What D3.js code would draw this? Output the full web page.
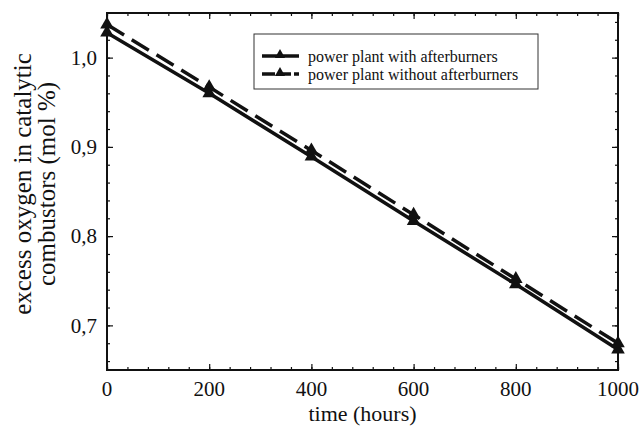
<!DOCTYPE html>
<html>
<head>
<meta charset="utf-8">
<script src="https://cdn.jsdelivr.net/npm/d3@7"></script>
<style>
  body { margin: 0; background: #fff; }
  text { font-family: "Liberation Serif", "DejaVu Serif", serif; fill: #111; }
</style>
</head>
<body>
<div id="chart"></div>
<script>
// data
const hours = [0, 200, 400, 600, 800, 1000];
const withAfterburners = [1.028, 0.960, 0.889, 0.817, 0.746, 0.673];
const withoutAfterburners = [1.037, 0.967, 0.896, 0.824, 0.752, 0.680];
const seriesNames = ['power plant with afterburners', 'power plant without afterburners'];
const xTicks = [0, 200, 400, 600, 800, 1000];
const yTicks = [0.7, 0.8, 0.9, 1.0];

const width = 643, height = 427;
const margin = { top: 13, right: 25, bottom: 57, left: 107 };
const innerW = width - margin.left - margin.right;
const innerH = height - margin.top - margin.bottom;

const svg = d3.select('#chart').append('svg')
    .attr('width', width)
    .attr('height', height);

const g = svg.append('g')
    .attr('transform', `translate(${margin.left},${margin.top})`);

const x = d3.scaleLinear().domain([0, 1000]).range([0, innerW]);
const y = d3.scaleLinear().domain([0.65, 1.05]).range([innerH, 0]);

const comma = d => d3.format('.1f')(d).replace('.', ',');

// minor + major ticks on all four sides, pointing inward
const xMinor = d3.range(0, 1001, 40);
const yMinor = d3.range(0.66, 1.05, 0.02);

function drawTicks(axisGen, transform, vals, len) {
    const a = g.append('g')
        .attr('transform', transform)
        .call(axisGen.tickValues(vals).tickSize(len).tickFormat(''));
    a.select('.domain').remove();
    a.selectAll('line').attr('stroke', '#111').attr('stroke-width', 1.2);
}
drawTicks(d3.axisTop(x), `translate(0,${innerH})`, xMinor, 3);
drawTicks(d3.axisTop(x), `translate(0,${innerH})`, xTicks, 6);
drawTicks(d3.axisBottom(x), 'translate(0,0)', xMinor, 3);
drawTicks(d3.axisBottom(x), 'translate(0,0)', xTicks, 6);
drawTicks(d3.axisRight(y), 'translate(0,0)', yMinor, 3);
drawTicks(d3.axisRight(y), 'translate(0,0)', yTicks, 6);
drawTicks(d3.axisLeft(y), `translate(${innerW},0)`, yMinor, 3);
drawTicks(d3.axisLeft(y), `translate(${innerW},0)`, yTicks, 6);

// frame
g.append('rect')
    .attr('width', innerW)
    .attr('height', innerH)
    .attr('fill', 'none')
    .attr('stroke', '#111')
    .attr('stroke-width', 2);

// tick labels
g.selectAll('.xlab')
    .data(xTicks)
    .enter()
    .append('text')
    .attr('x', d => x(d))
    .attr('y', innerH + 26)
    .attr('text-anchor', 'middle')
    .attr('font-size', '21px')
    .text(d => d);

g.selectAll('.ylab')
    .data(yTicks)
    .enter()
    .append('text')
    .attr('x', -10)
    .attr('y', d => y(d))
    .attr('dy', '0.35em')
    .attr('text-anchor', 'end')
    .attr('font-size', '21px')
    .text(comma);

// axis titles
svg.append('text')
    .attr('x', margin.left + innerW / 2)
    .attr('y', 421)
    .attr('text-anchor', 'middle')
    .attr('font-size', '22px')
    .text('time (hours)');

const yTitle = svg.append('text')
    .attr('transform', `translate(0,184) rotate(-90)`)
    .attr('text-anchor', 'middle')
    .attr('font-size', '25px');
yTitle.append('tspan').attr('x', 0).attr('y', 31).text('excess oxygen in catalytic');
yTitle.append('tspan').attr('x', 0).attr('y', 55).text('combustors (mol %)');

// lines
const line = d3.line()
    .x(d => x(d[0]))
    .y(d => y(d[1]));

const series = [
    { name: seriesNames[0], values: withAfterburners, dash: null },
    { name: seriesNames[1], values: withoutAfterburners, dash: '20,9' }
];

const tri = d3.symbol().type(d3.symbolTriangle).size(80);

series.forEach(s => {
    const pts = hours.map((h, i) => [h, s.values[i]]);
    g.append('path')
        .datum(pts)
        .attr('d', line)
        .attr('fill', 'none')
        .attr('stroke', '#111')
        .attr('stroke-width', 3.5)
        .attr('stroke-dasharray', s.dash);
    g.selectAll(null)
        .data(pts)
        .enter()
        .append('path')
        .attr('d', tri)
        .attr('transform', d => `translate(${x(d[0])},${y(d[1])})`)
        .attr('fill', '#111');
});

// legend
const legend = svg.append('g')
    .attr('transform', 'translate(254,34)');

legend.append('rect')
    .attr('width', 284)
    .attr('height', 55)
    .attr('fill', '#fff')
    .attr('stroke', '#333')
    .attr('stroke-width', 1);

const items = legend.selectAll('.legend-item')
    .data(series)
    .enter()
    .append('g')
    .attr('transform', (d, i) => `translate(0, ${22 + i * 18})`);

items.append('line')
    .attr('x1', 8)
    .attr('x2', 45)
    .attr('stroke', '#111')
    .attr('stroke-width', 3.5)
    .attr('stroke-dasharray', d => d.dash ? '13,3' : null);

items.append('path')
    .attr('d', d3.symbol().type(d3.symbolTriangle).size(45))
    .attr('transform', 'translate(26,-1)')
    .attr('fill', '#111');

items.append('text')
    .attr('x', 54)
    .attr('dy', '0.35em')
    .attr('font-size', '16px')
    .text(d => d.name);
</script>
</body>
</html>
